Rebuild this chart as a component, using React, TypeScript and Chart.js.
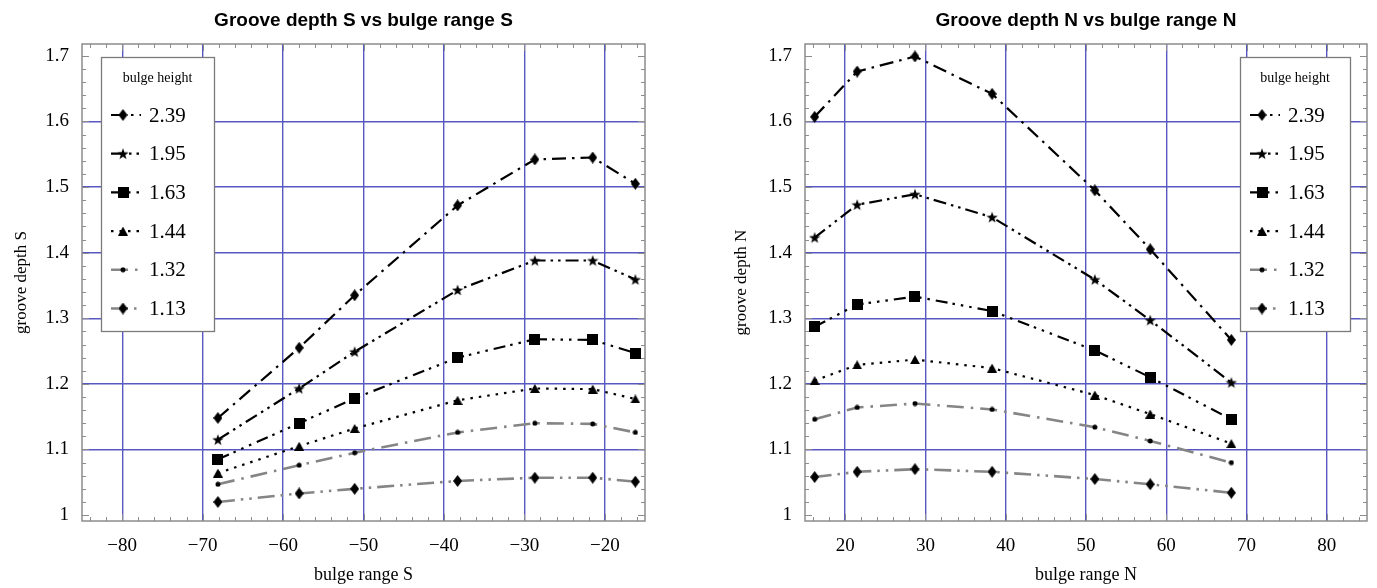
import React, { useEffect, useRef } from 'react';
import { Chart, registerables } from 'chart.js';

Chart.register(...registerables);

// ---------- data ----------
const bulgeHeights = ['2.39', '1.95', '1.63', '1.44', '1.32', '1.13'];

const rangeS = [-68.1, -58, -51.1, -38.3, -28.7, -21.5, -16.2];
const rangeN = [16.2, 21.5, 28.7, 38.3, 51.1, 58, 68.1];

const depthS_239 = [1.148, 1.255, 1.335, 1.472, 1.542, 1.545, 1.505];
const depthS_195 = [1.115, 1.193, 1.249, 1.343, 1.388, 1.388, 1.359];
const depthS_163 = [1.085, 1.14, 1.178, 1.24, 1.268, 1.267, 1.247];
const depthS_144 = [1.064, 1.105, 1.132, 1.175, 1.193, 1.192, 1.177];
const depthS_132 = [1.047, 1.076, 1.095, 1.126, 1.14, 1.139, 1.126];
const depthS_113 = [1.02, 1.033, 1.04, 1.052, 1.057, 1.057, 1.051];

const depthN_239 = [1.607, 1.676, 1.699, 1.642, 1.495, 1.405, 1.267];
const depthN_195 = [1.423, 1.473, 1.489, 1.454, 1.359, 1.297, 1.202];
const depthN_163 = [1.287, 1.321, 1.333, 1.311, 1.251, 1.21, 1.146];
const depthN_144 = [1.205, 1.229, 1.237, 1.224, 1.183, 1.154, 1.109];
const depthN_132 = [1.146, 1.164, 1.17, 1.161, 1.134, 1.113, 1.08];
const depthN_113 = [1.058, 1.066, 1.07, 1.066, 1.055, 1.047, 1.034];

const ticksS = [-80, -70, -60, -50, -40, -30, -20];
const ticksN = [20, 30, 40, 50, 60, 70, 80];
const ticksDepth = [1, 1.1, 1.2, 1.3, 1.4, 1.5, 1.6, 1.7];
const depthGridless = [1, 1.7];

const seriesS = [depthS_239, depthS_195, depthS_163, depthS_144, depthS_132, depthS_113];
const seriesN = [depthN_239, depthN_195, depthN_163, depthN_144, depthN_132, depthN_113];

// ---------- styles ----------
const GRID = '#5858c2';
const FRAME = '#8c8c8c';
const GRAY = '#858585';
const SERIF = '"Liberation Serif", "Times New Roman", serif';

function makeMarker(kind: string): HTMLCanvasElement {
  const c = document.createElement('canvas');
  let w = 10, h = 10;
  if (kind === 'diamond') { w = 9; h = 12; }
  if (kind === 'star') { w = 12; h = 12; }
  if (kind === 'square') { w = 11; h = 11; }
  if (kind === 'triangle') { w = 10; h = 9; }
  if (kind === 'circle') { w = 6; h = 6; }
  c.width = w; c.height = h;
  const g = c.getContext('2d')!;
  g.fillStyle = '#000';
  g.beginPath();
  if (kind === 'diamond') {
    g.moveTo(w / 2, 0); g.lineTo(w, h / 2); g.lineTo(w / 2, h); g.lineTo(0, h / 2); g.closePath();
  } else if (kind === 'star') {
    const cx = w / 2, cy = h / 2 + 0.5, R = 6, r = 2.4;
    for (let i = 0; i < 10; i++) {
      const ang = -Math.PI / 2 + (i * Math.PI) / 5;
      const rad = i % 2 === 0 ? R : r;
      const px = cx + rad * Math.cos(ang), py = cy + rad * Math.sin(ang);
      if (i === 0) g.moveTo(px, py); else g.lineTo(px, py);
    }
    g.closePath();
  } else if (kind === 'square') {
    g.rect(0, 0, w, h);
  } else if (kind === 'triangle') {
    g.moveTo(w / 2, 0); g.lineTo(w, h); g.lineTo(0, h); g.closePath();
  } else {
    g.arc(w / 2, h / 2, w / 2 - 0.5, 0, Math.PI * 2);
  }
  g.fill();
  return c;
}

const seriesStyle = [
  { marker: 'diamond', color: '#000', width: 2.2, dash: [14, 6, 2.5, 6] },
  { marker: 'star', color: '#000', width: 2.2, dash: [13, 5, 2.5, 5, 2.5, 5] },
  { marker: 'square', color: '#000', width: 2.2, dash: [12, 5, 2.5, 6, 2.5, 6, 2.5, 6] },
  { marker: 'triangle', color: '#000', width: 2.2, dash: [2.5, 6] },
  { marker: 'circle', color: GRAY, width: 2.6, dash: [17, 7, 2.5, 7] },
  { marker: 'diamond', color: GRAY, width: 2.6, dash: [17, 6, 2.5, 6, 2.5, 6] },
];

// ---------- plugins ----------
const framePlugin = {
  id: 'frame',
  beforeDatasetsDraw(chart: any) {
    const { ctx, chartArea: a, scales } = chart;
    const xs = scales.x, ys = scales.y;
    ctx.save();
    ctx.strokeStyle = FRAME;
    ctx.lineWidth = 1.5;
    ctx.strokeRect(a.left, a.top, a.right - a.left, a.bottom - a.top);
    ctx.lineWidth = 1;
    const seg = (x1: number, y1: number, x2: number, y2: number) => {
      ctx.beginPath(); ctx.moveTo(x1, y1); ctx.lineTo(x2, y2); ctx.stroke();
    };
    for (let k = Math.ceil(xs.min / 2); k <= Math.floor(xs.max / 2); k++) {
      const v = k * 2;
      const px = Math.round(xs.getPixelForValue(v)) + 0.5;
      const L = v % 10 === 0 ? 7 : 4;
      seg(px, a.bottom, px, a.bottom - L);
      seg(px, a.top, px, a.top + L);
    }
    for (let k = Math.ceil(ys.min * 50); k <= Math.floor(ys.max * 50); k++) {
      const py = Math.round(ys.getPixelForValue(k / 50)) + 0.5;
      const L = k % 5 === 0 ? 7 : 4;
      seg(a.left, py, a.left + L, py);
      seg(a.right, py, a.right - L, py);
    }
    ctx.restore();
  },
};

const legendPlugin = {
  id: 'insideLegend',
  afterDatasetsDraw(chart: any, _args: any, opts: any) {
    const { ctx, chartArea: a } = chart;
    const bx = opts.anchor === 'left' ? a.left + opts.dx : a.right - opts.dx - opts.w;
    const by = a.top + opts.dy;
    ctx.save();
    ctx.fillStyle = '#fff';
    ctx.fillRect(bx, by, opts.w, opts.h);
    ctx.strokeStyle = '#7a7a7a';
    ctx.lineWidth = 1.3;
    ctx.strokeRect(bx + 0.5, by + 0.5, opts.w, opts.h);
    ctx.fillStyle = '#000';
    ctx.font = `14px ${SERIF}`;
    ctx.textAlign = 'center';
    ctx.textBaseline = 'middle';
    ctx.fillText(opts.title, bx + opts.w / 2, by + 21);
    chart.data.datasets.forEach((ds: any, i: number) => {
      const y = by + 58 + i * 38.7;
      ctx.strokeStyle = ds.borderColor;
      ctx.lineWidth = ds.borderWidth;
      ctx.setLineDash(ds.borderDash || []);
      ctx.lineDashOffset = -4;
      ctx.beginPath(); ctx.moveTo(bx + 6, y); ctx.lineTo(bx + 40, y); ctx.stroke();
      ctx.setLineDash([]);
      const img = ds.pointStyle as HTMLCanvasElement;
      ctx.drawImage(img, bx + 22 - img.width / 2, y - img.height / 2);
      ctx.fillStyle = '#000';
      ctx.textAlign = 'left';
      ctx.font = `21px ${SERIF}`;
      ctx.fillText(ds.label, bx + 48, y + 1);
    });
    ctx.restore();
  },
};

// ---------- config ----------
type PanelSpec = {
  title: string;
  xTitle: string;
  yTitle: string;
  xs: number[];
  ys: number[][];
  xMin: number;
  xMax: number;
  xTicks: number[];
  padLeft: number;
  padRight: number;
  yWidth: number;
  legend: any;
};

const fmtX = (v: number) => (v < 0 ? '\u2212' + Math.abs(v) : String(v));
const fmtY = (v: number) => (Math.abs(v - 1) < 1e-9 ? '1' : v.toFixed(1));

function buildConfig(p: PanelSpec): any {
  const datasets = p.ys.map((ys, i) => {
    const st = seriesStyle[i];
    const marker = makeMarker(st.marker);
    return {
      label: bulgeHeights[i],
      data: p.xs.map((x, j) => ({ x, y: ys[j] })),
      borderColor: st.color,
      borderWidth: st.width,
      borderDash: st.dash,
      borderCapStyle: 'butt',
      pointStyle: marker,
      pointRadius: 5,
      pointBackgroundColor: '#000',
      pointBorderColor: '#000',
      tension: 0,
      fill: false,
    };
  });
  return {
    type: 'line',
    data: { datasets },
    plugins: [framePlugin, legendPlugin],
    options: {
      responsive: false,
      animation: false,
      layout: { padding: { left: p.padLeft, right: p.padRight, top: 0, bottom: 0 } },
      plugins: {
        legend: { display: false },
        tooltip: { enabled: false },
        title: {
          display: true,
          fullSize: false,
          text: p.title,
          color: '#000',
          font: { family: '"Liberation Sans", Arial, sans-serif', size: 19, weight: 'bold' },
          padding: { top: 9, bottom: 12.2 },
        },
        insideLegend: p.legend,
      },
      scales: {
        x: {
          type: 'linear',
          min: p.xMin,
          max: p.xMax,
          afterBuildTicks: (s: any) => { s.ticks = p.xTicks.map((v) => ({ value: v })); },
          afterFit: (s: any) => { s.height = 67; },
          grid: { color: GRID, lineWidth: 1.4, drawTicks: false },
          border: { display: false },
          ticks: {
            autoSkip: false,
            maxRotation: 0,
            padding: 14,
            color: '#000',
            font: { family: SERIF, size: 19 },
            callback: (v: any) => fmtX(Number(v)),
          },
          title: {
            display: true,
            text: p.xTitle,
            color: '#000',
            font: { family: SERIF, size: 18 },
            padding: { top: 2, bottom: 2 },
          },
        },
        y: {
          type: 'linear',
          min: 0.991,
          max: 1.718,
          afterBuildTicks: (s: any) => { s.ticks = ticksDepth.map((v) => ({ value: v })); },
          afterFit: (s: any) => { s.width = p.yWidth; },
          grid: {
            color: (c: any) =>
              depthGridless.some((g) => Math.abs(g - (c.tick ? c.tick.value : 0)) < 1e-6) ? 'rgba(0,0,0,0)' : GRID,
            lineWidth: 1.4,
            drawTicks: false,
          },
          border: { display: false },
          ticks: {
            autoSkip: false,
            padding: 13,
            color: '#000',
            font: { family: SERIF, size: 19 },
            callback: (v: any) => fmtY(Number(v)),
          },
          title: {
            display: true,
            text: p.yTitle,
            color: '#000',
            font: { family: SERIF, size: 17 },
            padding: { top: 11, bottom: 11 },
          },
        },
      },
    },
  };
}

const leftSpec: PanelSpec = {
  title: 'Groove depth S vs bulge range S',
  xTitle: 'bulge range S',
  yTitle: 'groove depth S',
  xs: rangeS,
  ys: seriesS,
  xMin: -85,
  xMax: -15,
  xTicks: ticksS,
  padLeft: 0,
  padRight: 45,
  yWidth: 82,
  legend: { anchor: 'left', dx: 19, dy: 13, w: 113, h: 274, title: 'bulge height' },
};

const rightSpec: PanelSpec = {
  title: 'Groove depth N vs bulge range N',
  xTitle: 'bulge range N',
  yTitle: 'groove depth N',
  xs: rangeN,
  ys: seriesN,
  xMin: 15,
  xMax: 85,
  xTicks: ticksN,
  padLeft: 30,
  padRight: 10,
  yWidth: 85,
  legend: { anchor: 'right', dx: 17, dy: 13, w: 110, h: 274, title: 'bulge height' },
};

function Panel({ spec, left, width }: { spec: PanelSpec; left: number; width: number }) {
  const ref = useRef<HTMLCanvasElement>(null);
  useEffect(() => {
    const chart = new Chart(ref.current!, buildConfig(spec));
    return () => chart.destroy();
  }, [spec]);
  return (
    <canvas
      ref={ref}
      width={width}
      height={588}
      style={{ position: 'absolute', left, top: 0, width, height: 588 }}
    />
  );
}

export default function App() {
  return (
    <div style={{ position: 'fixed', left: 0, top: 0, width: 1377, height: 588, background: '#fff', overflow: 'hidden' }}>
      <Panel spec={leftSpec} left={0} width={690} />
      <Panel spec={rightSpec} left={690} width={687} />
    </div>
  );
}
